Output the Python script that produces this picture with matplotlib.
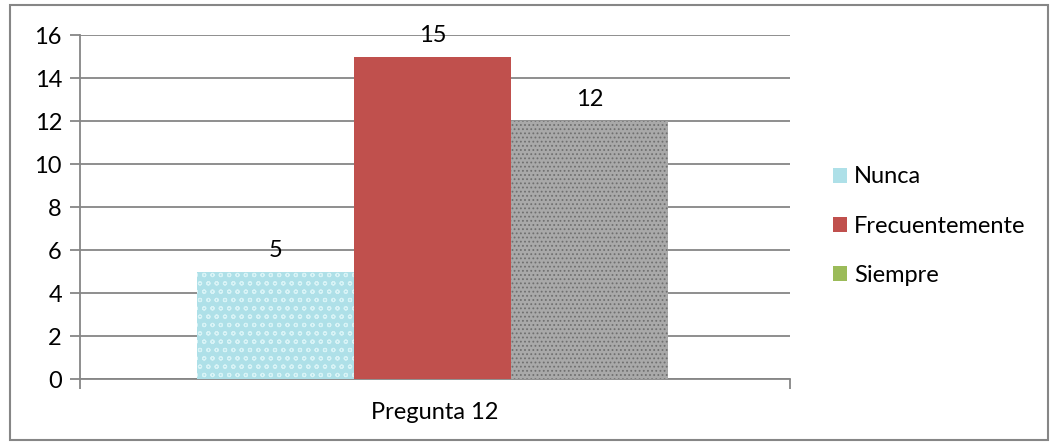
import matplotlib
matplotlib.use("Agg")
import matplotlib.pyplot as plt
import numpy as np
from matplotlib.patches import Patch, Rectangle

categories = ["Pregunta 12"]
series = ["Nunca", "Frecuentemente", "Siempre"]
values = [5, 15, 12]
yticks = [0, 2, 4, 6, 8, 10, 12, 14, 16]

plt.rcParams['font.family'] = ['Lato', 'DejaVu Sans']
plt.rcParams['hatch.linewidth'] = 0.8

fig = plt.figure(figsize=(10.58, 4.42), dpi=100)
fig.patches.append(Rectangle((0.009, 0.004), 0.982, 0.985, transform=fig.transFigure,
                             fill=False, edgecolor='#868686', linewidth=1.5))
ax = fig.add_axes([0.0756, 0.1425, 0.671, 0.7783])

grid_c = '#868686'
ax.set_xlim(0, 1)
ax.set_ylim(0, 16)
ax.set_yticks(yticks)
ax.yaxis.grid(True, color=grid_c, linewidth=1.3)
ax.set_axisbelow(True)
for s in ['top', 'right']:
    ax.spines[s].set_visible(False)
ax.spines['left'].set_color(grid_c)
ax.spines['bottom'].set_color(grid_c)
ax.spines['left'].set_linewidth(1.3)
ax.spines['bottom'].set_linewidth(1.3)
ax.tick_params(axis='y', length=7, color=grid_c, width=1.3, labelsize=17, pad=6)
ax.set_xticks([0, 1])
ax.set_xticklabels(['', ''])
ax.tick_params(axis='x', length=7, color=grid_c, width=1.3)
ax.text(0.5, -0.096, categories[0], transform=ax.transAxes, ha='center', va='center', fontsize=17)

bw = 0.221
start = 0.5 - 1.5 * bw - 0.003
faces = ['#aee0e8', '#c0504d', '#a9a9a9']
hatches = ['oo', None, '....']
hcols = ['#d8f3f6', None, '#707070']
for i, (name, v) in enumerate(zip(series, values)):
    x = start + i * bw
    ax.bar(x, v, width=bw, align='edge', color=faces[i], edgecolor='none', zorder=3)
    if hatches[i]:
        ax.bar(x, v, width=bw, align='edge', color='none', hatch=hatches[i],
               edgecolor=hcols[i], linewidth=0, zorder=3.5)
    ax.text(x + bw / 2, v + 0.5, str(v), ha='center', va='bottom', fontsize=17, zorder=5)

handles = [Patch(facecolor='#aee0e8'), Patch(facecolor='#c0504d'), Patch(facecolor='#9bbb59')]
fig.legend(handles, series, loc='center left', bbox_to_anchor=(0.767, 0.488), frameon=False,
           fontsize=17, handlelength=0.6, handleheight=0.6, handletextpad=0.3, labelspacing=1.2)

fig.savefig('out.png', dpi=100)
